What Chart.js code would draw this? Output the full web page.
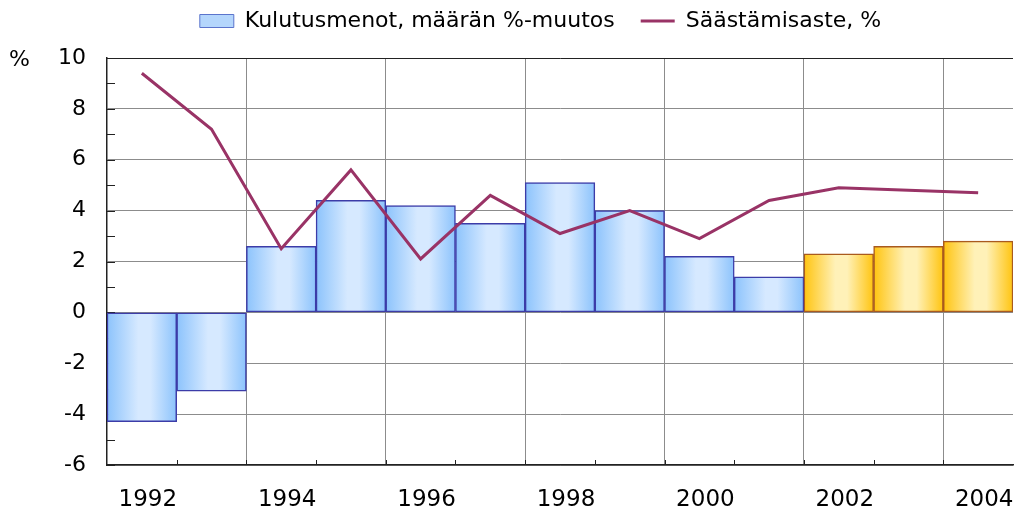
<!DOCTYPE html>
<html>
<head>
<meta charset="utf-8">
<script src="https://cdn.jsdelivr.net/npm/chart.js@4.4.1/dist/chart.umd.min.js"></script>
<style>
  html, body { margin: 0; padding: 0; background: #fff; }
  #wrap { width: 1019px; height: 508px; }
</style>
</head>
<body>
<div id="wrap"><canvas id="chart"></canvas></div>
<script>
var years = ['1992', '1993', '1994', '1995', '1996', '1997', '1998', '1999', '2000', '2001', '2002', '2003', '2004'];
var spending = [-4.3, -3.1, 2.6, 4.4, 4.2, 3.5, 5.1, 4.0, 2.2, 1.4, 2.3, 2.6, 2.8];
var savingRate = [9.4, 7.2, 2.5, 5.6, 2.1, 4.6, 3.1, 4.0, 2.9, 4.4, 4.9, 4.8, 4.7];
var forecastFrom = '2002';
var yMin = -6, yMax = 10;

var fontFamily = '"DejaVu Sans", Arial, sans-serif';

function isForecast(i) { return years[i] >= forecastFrom; }

// horizontal gradient across each bar, blue for history and yellow for forecast
function barFill(ctx) {
  var chart = ctx.chart;
  var x = chart.scales.x;
  if (!chart.chartArea || !x || ctx.dataIndex === undefined) return '#b4d6fc';
  var cx = x.getPixelForValue(ctx.dataIndex);
  var half = x.width / years.length / 2;
  var g = chart.ctx.createLinearGradient(cx - half, 0, cx + half, 0);
  var c = isForecast(ctx.dataIndex) ? ['#ffc40f', '#fff1b8'] : ['#8cc3fc', '#d6e9ff'];
  g.addColorStop(0, c[0]);
  g.addColorStop(0.45, c[1]);
  g.addColorStop(0.62, c[1]);
  g.addColorStop(1, c[0]);
  return g;
}

function barBorder(ctx) {
  return isForecast(ctx.dataIndex) ? '#a95a1e' : '#3c3ca8';
}

var chartTweaks = {
  id: 'chartTweaks',
  beforeLayout: function (chart) {
    var lg = chart.legend;
    if (!lg || lg._tweaked) return;
    lg._tweaked = true;
    var draw = lg.draw;
    // legend sits higher and a bit right of the page centre in the original
    lg.draw = function () {
      this.ctx.save();
      this.ctx.translate(34, -16);
      draw.call(this);
      this.ctx.restore();
    };
  },
  beforeDatasetsDraw: function (chart) {
    var c = chart.ctx, a = chart.chartArea, x = chart.scales.x, y = chart.scales.y;
    c.save();
    c.strokeStyle = '#222';
    c.lineWidth = 1;
    c.beginPath();
    for (var v = yMin; v <= yMax; v++) {
      var py = Math.round(y.getPixelForValue(v)) + 0.5;
      c.moveTo(a.left, py);
      c.lineTo(a.left + 8, py);
    }
    var step = x.width / years.length;
    for (var i = 1; i < years.length; i++) {
      var px = Math.round(x.left + i * step) + 0.5;
      c.moveTo(px, a.bottom);
      c.lineTo(px, a.bottom - 5);
    }
    c.stroke();
    c.restore();
  },
  afterDraw: function (chart) {
    var c = chart.ctx, y = chart.scales.y;
    c.save();
    c.fillStyle = '#000';
    c.font = '22px ' + fontFamily;
    c.textAlign = 'left';
    c.textBaseline = 'middle';
    c.fillText('%', 9, y.getPixelForValue(yMax) + 2);
    c.restore();
  }
};

var ctx = document.getElementById('chart').getContext('2d');
new Chart(ctx, {
  data: {
    labels: years,
    datasets: [
      {
        type: 'bar',
        label: 'Kulutusmenot, määrän %-muutos',
        data: spending,
        backgroundColor: barFill,
        borderColor: barBorder,
        borderWidth: 1.5,
        borderSkipped: false,
        barPercentage: 1,
        categoryPercentage: 1,
        order: 1
      },
      {
        type: 'line',
        label: 'Säästämisaste, %',
        data: savingRate,
        borderColor: '#993366',
        backgroundColor: '#993366',
        borderWidth: 3,
        pointRadius: 0,
        tension: 0,
        order: 0
      }
    ]
  },
  options: {
    responsive: true,
    maintainAspectRatio: false,
    animation: false,
    layout: { padding: { top: 0, right: 6, left: 0, bottom: 0 } },
    plugins: {
      tooltip: { enabled: false },
      legend: {
        position: 'top',
        labels: {
          usePointStyle: true,
          pointStyleWidth: 34,
          boxHeight: 13,
          padding: 26,
          color: '#000',
          font: { family: fontFamily, size: 22 },
          sort: function (a, b) { return a.datasetIndex - b.datasetIndex; },
          generateLabels: function (chart) {
            var items = Chart.defaults.plugins.legend.labels.generateLabels(chart);
            items.forEach(function (it) {
              if (it.datasetIndex === 0) {
                it.pointStyle = 'rect';
                it.fillStyle = '#b4d6fc';
                it.strokeStyle = '#5b74cc';
                it.lineWidth = 1;
              } else {
                it.pointStyle = 'line';
                it.strokeStyle = '#993366';
                it.lineWidth = 3;
              }
            });
            return items;
          }
        }
      }
    },
    scales: {
      x: {
        type: 'category',
        offset: true,
        afterFit: function (s) { s.height = 43; s.paddingLeft = 0; s.paddingRight = 0; },
        border: { display: true, color: '#222', width: 1.5 },
        grid: {
          offset: true,
          drawTicks: false,
          lineWidth: 1,
          color: function (c) {
            if (c.index === years.length) return '#222';
            if (c.index > 0 && c.index % 2 === 0) return '#8c8c8c';
            return 'rgba(0,0,0,0)';
          }
        },
        ticks: {
          autoSkip: false,
          maxRotation: 0,
          padding: 21,
          labelOffset: 6,
          color: '#000',
          font: { family: fontFamily, size: 23 },
          callback: function (v, i) { return i % 2 === 0 ? years[i] : ''; }
        }
      },
      y: {
        min: yMin,
        max: yMax,
        afterFit: function (s) { s.width = 107; },
        border: { display: true, color: '#222', width: 1.5 },
        grid: {
          drawTicks: false,
          lineWidth: 1,
          color: function (c) {
            var v = c.tick ? c.tick.value : null;
            if (v === yMax) return '#222';
            if (v !== null && v % 2 === 0) return '#8c8c8c';
            return 'rgba(0,0,0,0)';
          }
        },
        ticks: {
          stepSize: 1,
          padding: 21,
          color: '#000',
          font: { family: fontFamily, size: 22 },
          callback: function (v) { return v % 2 === 0 ? String(v) : ''; }
        }
      }
    }
  },
  plugins: [chartTweaks]
});
</script>
</body>
</html>
